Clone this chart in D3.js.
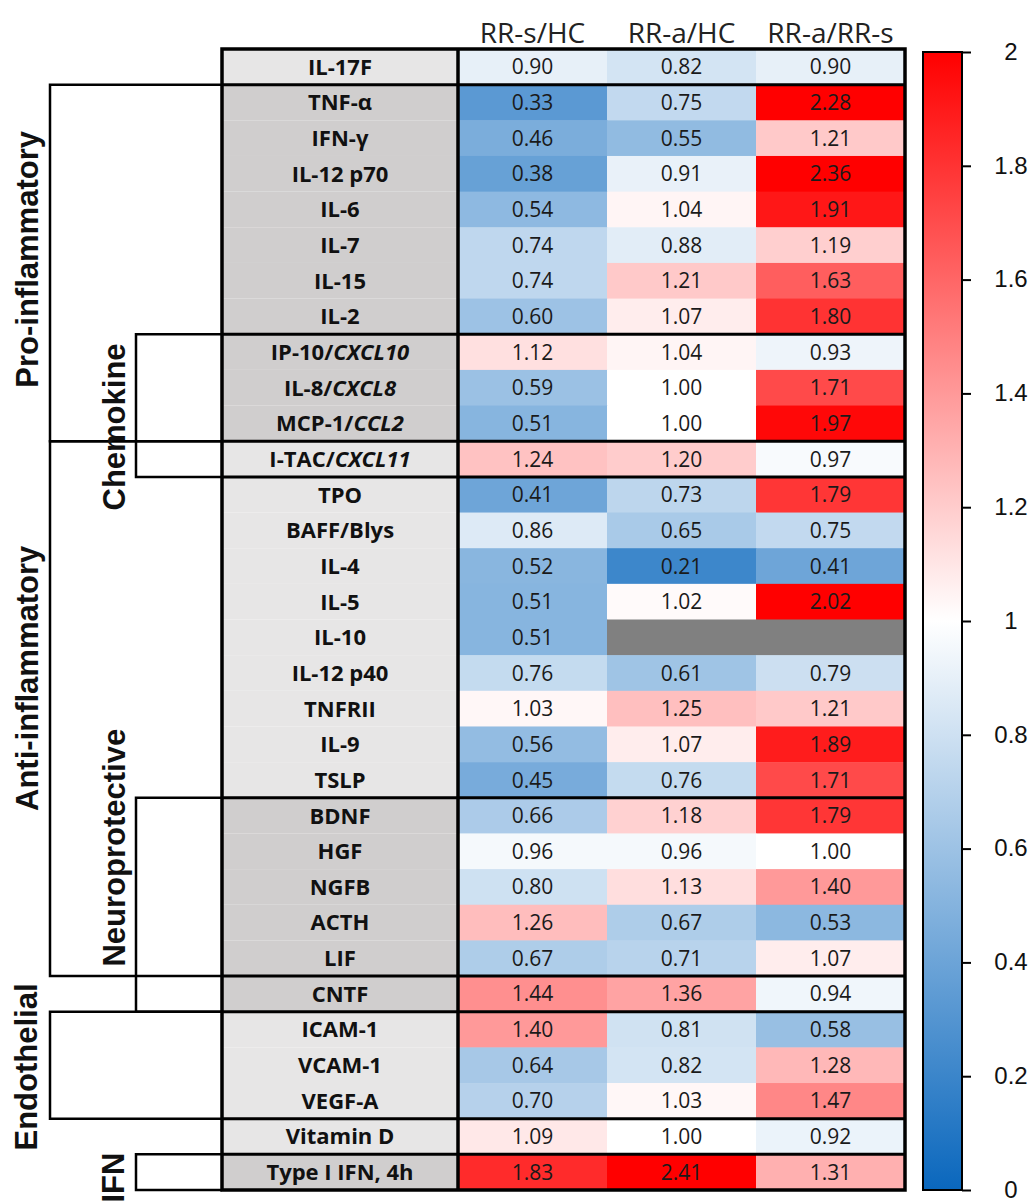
<!DOCTYPE html>
<html>
<head>
  <style>
    body { margin: 0; background: #fff; }
    .val { font-family: "Open Sans", sans-serif; font-size: 21px; fill: #1a1a1a; }
    .lab { font-family: "Open Sans", sans-serif; font-size: 22px; font-weight: bold; fill: #111; }
    .head { font-family: "Open Sans", sans-serif; font-size: 28px; fill: #222; }
    .grp { font-family: "Liberation Sans", Arial, sans-serif; font-size: 31px; font-weight: bold; fill: #111; }
    .cbar text { font-family: "Liberation Sans", Arial, sans-serif; font-size: 24px; fill: #111; }
  </style>
</head>
<body>
  <svg id="chart" width="1035" height="1203"></svg>

  <script src="https://d3js.org/d3.v7.min.js"></script>
  <script>
    // data
    const rows = ["IL-17F", "TNF-α", "IFN-γ", "IL-12 p70", "IL-6", "IL-7", "IL-15", "IL-2",
      "IP-10/|CXCL10", "IL-8/|CXCL8", "MCP-1/|CCL2", "I-TAC/|CXCL11",
      "TPO", "BAFF/Blys", "IL-4", "IL-5", "IL-10", "IL-12 p40", "TNFRII", "IL-9", "TSLP",
      "BDNF", "HGF", "NGFB", "ACTH", "LIF", "CNTF",
      "ICAM-1", "VCAM-1", "VEGF-A", "Vitamin D", "Type I IFN, 4h"];

    const columns = ["RR-s/HC", "RR-a/HC", "RR-a/RR-s"];

    const rrsHC = [0.90, 0.33, 0.46, 0.38, 0.54, 0.74, 0.74, 0.60, 1.12, 0.59, 0.51, 1.24,
      0.41, 0.86, 0.52, 0.51, 0.51, 0.76, 1.03, 0.56, 0.45, 0.66, 0.96, 0.80, 1.26, 0.67,
      1.44, 1.40, 0.64, 0.70, 1.09, 1.83];
    const rraHC = [0.82, 0.75, 0.55, 0.91, 1.04, 0.88, 1.21, 1.07, 1.04, 1.00, 1.00, 1.20,
      0.73, 0.65, 0.21, 1.02, null, 0.61, 1.25, 1.07, 0.76, 1.18, 0.96, 1.13, 0.67, 0.71,
      1.36, 0.81, 0.82, 1.03, 1.00, 2.41];
    const rraRRs = [0.90, 2.28, 1.21, 2.36, 1.91, 1.19, 1.63, 1.80, 0.93, 1.71, 1.97, 0.97,
      1.79, 0.75, 0.41, 2.02, null, 0.79, 1.21, 1.89, 1.71, 1.79, 1.00, 1.40, 0.53, 1.07,
      0.94, 0.58, 1.28, 1.47, 0.92, 1.31];

    // label cell shade: 1 = dark grey, 0 = light grey
    const shade = [0, 1, 1, 1, 1, 1, 1, 1, 1, 1, 1, 0, 0, 0, 0, 0, 0, 0, 0, 0, 0,
      1, 1, 1, 1, 1, 1, 0, 0, 0, 0, 1];

    // groups: first row, last row (inclusive), bracket level
    const groups = [
      { name: "Pro-inflammatory", from: 1, to: 10, level: 0 },
      { name: "Chemokine", from: 8, to: 11, level: 1 },
      { name: "Anti-inflammatory", from: 11, to: 25, level: 0 },
      { name: "Neuroprotective", from: 21, to: 26, level: 1 },
      { name: "Endothelial", from: 27, to: 29, level: 0 },
      { name: "IFN", from: 31, to: 31, level: 1 }
    ];

    const colorTicks = [0, 0.2, 0.4, 0.6, 0.8, 1, 1.2, 1.4, 1.6, 1.8, 2];

    // layout
    const tableTop = 49, tableBottom = 1190;
    const labX0 = 222, labX1 = 458, heatX1 = 905;
    const bracketX = [50, 136];
    // group label centre (in rows) and x, tuned to the picture
    const groupLabelPos = {
      "Pro-inflammatory": { r: 5.9, x: 27 },
      "Chemokine": { r: 10.6, x: 114 },
      "Anti-inflammatory": { r: 17.65, x: 27 },
      "Neuroprotective": { r: 22.4, x: 114 },
      "Endothelial": { r: 28.55, x: 26 },
      "IFN": { r: 31.65, x: 113 }
    };

    const svg = d3.select("#chart");

    const y = d3.scaleBand().domain(d3.range(rows.length)).range([tableTop, tableBottom]).padding(0);
    const yPos = d3.scaleLinear().domain([0, rows.length]).range([tableTop, tableBottom]);
    const x = d3.scaleBand().domain(columns).range([labX1, heatX1]).padding(0);

    const color = d3.scaleLinear()
      .domain([0, 1, 2])
      .range(["#0a67bd", "#ffffff", "#ff0000"])
      .clamp(true);

    const series = [rrsHC, rraHC, rraRRs];
    const cells = [];
    rows.forEach((r, i) => {
      columns.forEach((c, j) => cells.push({ row: i, col: c, v: series[j][i] }));
    });

    // label cells
    svg.append("g").selectAll("rect")
      .data(rows)
      .join("rect")
      .attr("x", labX0)
      .attr("y", (d, i) => y(i))
      .attr("width", labX1 - labX0)
      .attr("height", y.bandwidth())
      .attr("fill", (d, i) => shade[i] ? "#d0cece" : "#e7e6e6");

    // heat cells
    svg.append("g").selectAll("rect")
      .data(cells)
      .join("rect")
      .attr("x", d => x(d.col))
      .attr("y", d => y(d.row))
      .attr("width", x.bandwidth() + 0.5)
      .attr("height", y.bandwidth() + 0.5)
      .attr("fill", d => d.v == null ? "#808080" : color(d.v));

    svg.append("g").selectAll("text")
      .data(cells.filter(d => d.v != null))
      .join("text")
      .attr("class", "val")
      .attr("x", d => x(d.col) + x.bandwidth() / 2)
      .attr("y", d => y(d.row) + y.bandwidth() / 2)
      .attr("dy", "0.36em")
      .attr("text-anchor", "middle")
      .text(d => d.v.toFixed(2));

    // row labels (part after | in italics)
    const labs = svg.append("g").selectAll("text")
      .data(rows)
      .join("text")
      .attr("class", "lab")
      .attr("x", (labX0 + labX1) / 2)
      .attr("y", (d, i) => y(i) + y.bandwidth() / 2)
      .attr("dy", "0.36em")
      .attr("text-anchor", "middle");
    labs.each(function(d) {
      const parts = d.split("|");
      const t = d3.select(this);
      t.append("tspan").text(parts[0]);
      if (parts[1]) t.append("tspan").attr("font-style", "italic").text(parts[1]);
    });

    // column headers
    svg.append("g").selectAll("text")
      .data(columns)
      .join("text")
      .attr("class", "head")
      .attr("x", d => x(d) + x.bandwidth() / 2)
      .attr("y", 43)
      .attr("text-anchor", "middle")
      .text(d => d);

    // table lines
    const lines = svg.append("g").attr("stroke", "#000").attr("fill", "none");
    const seps = new Set();
    groups.forEach(g => { seps.add(g.from); seps.add(g.to + 1); });
    seps.delete(rows.length);
    lines.selectAll("line.sep")
      .data([...seps])
      .join("line")
      .attr("class", "sep")
      .attr("x1", labX0).attr("x2", heatX1)
      .attr("y1", d => yPos(d)).attr("y2", d => yPos(d))
      .attr("stroke-width", 3);
    lines.append("line")
      .attr("x1", labX1).attr("x2", labX1)
      .attr("y1", tableTop).attr("y2", tableBottom)
      .attr("stroke-width", 3.5);
    lines.append("rect")
      .attr("x", labX0).attr("y", tableTop)
      .attr("width", heatX1 - labX0).attr("height", tableBottom - tableTop)
      .attr("stroke-width", 3.5);

    // brackets
    lines.selectAll("path.br")
      .data(groups)
      .join("path")
      .attr("class", "br")
      .attr("stroke-width", 2.5)
      .attr("d", g => {
        const bx = bracketX[g.level];
        const y0 = yPos(g.from), y1 = yPos(g.to + 1);
        return `M${labX0},${y0}H${bx}V${y1}H${labX0}`;
      });

    // group labels
    svg.append("g").selectAll("text")
      .data(groups)
      .join("text")
      .attr("class", "grp")
      .attr("transform", g => {
        const p = groupLabelPos[g.name];
        return `translate(${p.x},${yPos(p.r)}) rotate(-90)`;
      })
      .attr("dy", "0.36em")
      .attr("text-anchor", "middle")
      .text(g => g.name);

    // colour bar
    const cbX = 923, cbW = 39, cbTop = 52, cbBot = 1190;
    const cy = d3.scaleLinear().domain([0, 2]).range([cbBot, cbTop]);
    const grad = svg.append("defs").append("linearGradient")
      .attr("id", "cgrad").attr("x1", 0).attr("y1", 1).attr("x2", 0).attr("y2", 0);
    grad.selectAll("stop")
      .data([0, 1, 2])
      .join("stop")
      .attr("offset", d => d / 2)
      .attr("stop-color", d => color(d));
    svg.append("rect")
      .attr("x", cbX).attr("y", cbTop)
      .attr("width", cbW).attr("height", cbBot - cbTop)
      .attr("fill", "url(#cgrad)")
      .attr("stroke", "#000").attr("stroke-width", 2);

    const cAxis = svg.append("g")
      .attr("class", "cbar")
      .attr("transform", `translate(${cbX + cbW},0)`)
      .call(d3.axisRight(cy).tickValues(colorTicks).tickSize(9).tickFormat(d => +d.toFixed(1)));
    cAxis.select(".domain").remove();
    cAxis.selectAll(".tick line").attr("stroke-width", 2);
    cAxis.selectAll(".tick text")
      .attr("x", 49)
      .attr("dy", "0.3em")
      .attr("text-anchor", "middle");
  </script>
</body>
</html>
